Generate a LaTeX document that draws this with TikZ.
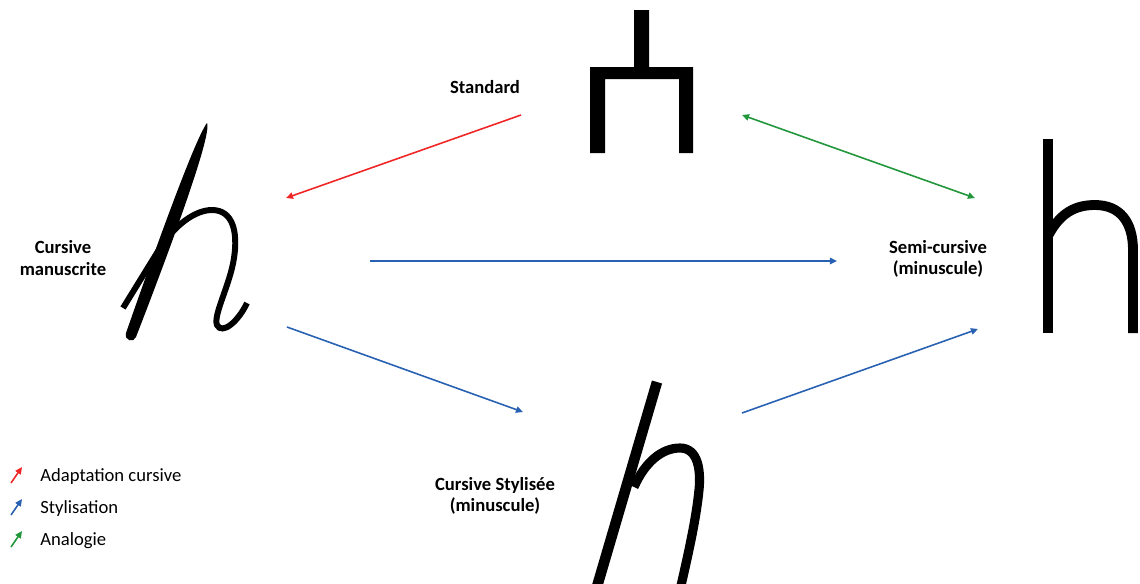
\documentclass[tikz,border=0pt]{standalone}
\usepackage{fontspec}
\setmainfont{Carlito}
\usetikzlibrary{arrows.meta}
\definecolor{adapt}{RGB}{240,38,38}
\definecolor{stylis}{RGB}{40,96,178}
\definecolor{analog}{RGB}{34,150,58}
\tikzset{
  lbl/.style={font=\fontsize{10.6}{12.2}\selectfont\bfseries, align=center, inner sep=0pt},
  leg/.style={font=\fontsize{10.6}{12.2}\selectfont, anchor=west, inner sep=0pt},
  link/.style={line width=0.9pt, -{Triangle[length=4pt,width=3.6pt]}},
  pen/.style={line width=#1, line cap=butt},
}
\begin{document}
\begin{tikzpicture}[x=0.02cm, y=-0.02cm]
                \useasboundingbox (0,0) rectangle (1140,583);
                \clip (0,0) rectangle (1140,583);
                % Labels
                \node[lbl] (std) at (485,87) {Standard};
                \node[lbl] (cm) at (63,258) {Cursive\\manuscrite};
                \node[lbl] (sc) at (938,259) {Semi-cursive\\(minuscule)};
                \node[lbl] (cs) at (495,496) {Cursive Stylisée\\(minuscule)};
                % Standard glyph
                \fill (634,10) -- (649,10) -- (649,67) -- (693,67) -- (693,153) -- (679,153) -- (679,79)
                    -- (605,79) -- (605,153) -- (590,153) -- (590,67) -- (634,67) -- cycle;
                % Cursive manuscrite glyph
                \fill (207,123) .. controls (194,140) and (148,270) .. (126,333)
                    .. controls (124,341) and (134,343) .. (136,337)
                    .. controls (162,270) and (213,135) .. (207,123) -- cycle;
                \draw[pen=3.4pt] (123,308) -- (160,248) .. controls (175,225) and (195,210) .. (212,210)
                    .. controls (233,210) and (238,232) .. (234,258)
                    .. controls (230,285) and (213,315) .. (217,325)
                    .. controls (222,335) and (238,322) .. (247,303);
                % Semi-cursive glyph
                \draw[pen=5.6pt] (1048,139) -- (1048,333);
                \draw[pen=5.6pt] (1048,236) .. controls (1060,213) and (1075,205) .. (1095,205)
                    .. controls (1120,205) and (1133,222) .. (1133,250) -- (1133,333);
                % Cursive stylisee glyph
                \draw[pen=6pt] (657,382) -- (596,590);
                \draw[pen=5.2pt] (634,487) .. controls (645,462) and (662,448) .. (680,448)
                    .. controls (698,448) and (701,470) .. (699,490)
                    .. controls (696,520) and (688,555) .. (680,590);
                % Anchors
                \coordinate (std-w) at (521,115);
                \coordinate (std-e) at (742,115);
                \coordinate (cm-n) at (286,198);
                \coordinate (cm-e) at (370,261);
                \coordinate (cm-s) at (287,327);
                \coordinate (sc-n) at (975,198);
                \coordinate (sc-w) at (837,261);
                \coordinate (sc-s) at (978,329);
                \coordinate (cs-w) at (523,412);
                \coordinate (cs-e) at (742,413);
                % Transitions
                \draw[link, adapt] (std-w) -- (cm-n);
                \draw[link, analog, {Triangle[length=4pt,width=3.6pt]}-{Triangle[length=4pt,width=3.6pt]}] (std-e) -- (sc-n);
                \draw[link, stylis] (cm-e) -- (sc-w);
                \draw[link, stylis] (cm-s) -- (cs-w);
                \draw[link, stylis] (cs-e) -- (sc-s);
                % Legend
                \foreach \c/\y/\t in {adapt/477/Adaptation cursive, stylis/509/Stylisation, analog/541/Analogie}{
                    \node[leg] (leg-\c) at (40,\y) {\t};
                    \draw[link, \c] ([shift={(-29,6)}]leg-\c.west) -- ([shift={(-18,-10)}]leg-\c.west);
                }
            \end{tikzpicture}
\end{document}
